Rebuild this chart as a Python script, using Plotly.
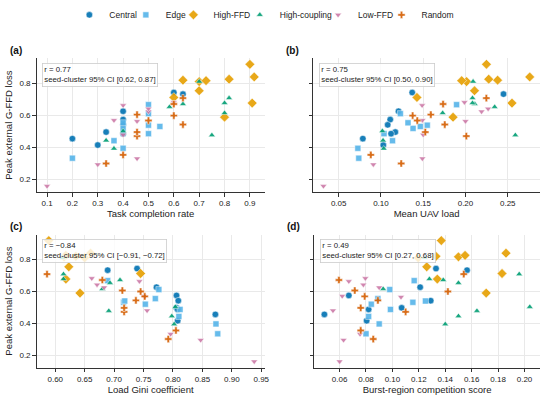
import plotly.graph_objects as go

W, H = 550, 401

# groups and colours (Okabe-Ito)
groups = ["Central", "Edge", "High-FFD", "High-coupling", "Low-FFD", "Random"]
colors = ["#0072B2", "#56B4E9", "#E69F00", "#009E73", "#CC79A7", "#D55E00"]
symbols = ["circle", "square", "diamond", "triangle-up", "triangle-down", "cross"]
sizes = [6.5, 6, 7.5, 6, 6, 6]

# peak external G-FFD loss per run, by group
loss_central = [0.456, 0.416, 0.497, 0.627, 0.575, 0.542, 0.487, 0.744, 0.734]
loss_edge = [0.334, 0.396, 0.443, 0.487, 0.520, 0.532, 0.540, 0.555, 0.612, 0.668]
loss_highffd = [0.590, 0.678, 0.713, 0.755, 0.812, 0.818, 0.821, 0.827, 0.841, 0.920]
loss_coupling = [0.394, 0.445, 0.478, 0.503, 0.616, 0.654, 0.672, 0.678, 0.709, 0.812]
loss_lowffd = [0.160, 0.295, 0.332, 0.480, 0.565, 0.571, 0.625, 0.643, 0.664, 0.683]
loss_random = [0.301, 0.355, 0.472, 0.497, 0.544, 0.569, 0.600, 0.606, 0.672, 0.709]

# task completion rate
task_central = [0.2, 0.3, 0.333, 0.4, 0.4, 0.4, 0.4, 0.6, 0.636]
task_edge = [0.2, 0.4, 0.364, 0.5, 0.4, 0.545, 0.5, 0.4, 0.5, 0.5]
task_highffd = [0.8, 0.909, 0.6, 0.7, 0.7, 0.727, 0.636, 0.818, 0.917, 0.9]
task_coupling = [0.364, 0.333, 0.75, 0.4, 0.8, 0.583, 0.636, 0.8, 0.818, 0.7]
task_lowffd = [0.1, 0.3, 0.455, 0.4, 0.455, 0.364, 0.5, 0.5, 0.4, 0.6]
task_random = [0.333, 0.4, 0.455, 0.455, 0.636, 0.5, 0.6, 0.455, 0.6, 0.636]

# mean UAV load
load_central = [0.0786, 0.1028, 0.117, 0.1208, 0.111, 0.108, 0.112, 0.137, 0.245]
load_edge = [0.0738, 0.0727, 0.1137, 0.1036, 0.138, 0.1466, 0.1548, 0.132, 0.123, 0.1895]
load_highffd = [0.1853, 0.255, 0.1426, 0.2107, 0.2013, 0.1955, 0.238, 0.2275, 0.276, 0.2248]
load_coupling = [0.1033, 0.1025, 0.259, 0.1017, 0.173, 0.2345, 0.211, 0.2083, 0.2083, 0.209]
load_lowffd = [0.032, 0.091, 0.149, 0.150, 0.200, 0.149, 0.219, 0.2268, 0.1487, 0.1988]
load_random = [0.124, 0.088, 0.201, 0.1525, 0.1755, 0.143, 0.1375, 0.159, 0.1735, 0.2247]

# load Gini coefficient
gini_central = [0.872, 0.808, 0.806, 0.772, 0.806, 0.809, 0.808, 0.739, 0.689]
gini_edge = [0.876, 0.873, 0.810, 0.812, 0.753, 0.716, 0.718, 0.770, 0.776, 0.689]
gini_highffd = [0.642, 0.618, 0.745, 0.623, 0.65, 0.615, 0.635, 0.618, 0.66, 0.589]
gini_coupling = [0.802, 0.798, 0.691, 0.804, 0.680, 0.693, 0.710, 0.614, 0.614, 0.6125]
gini_lowffd = [0.938, 0.847, 0.796, 0.756, 0.752, 0.750, 0.683, 0.671, 0.743, 0.662]
gini_random = [0.792, 0.805, 0.717, 0.717, 0.737, 0.752, 0.745, 0.714, 0.680, 0.586]

# burst-region competition score
burst_central = [0.0485, 0.0805, 0.107, 0.121, 0.067, 0.129, 0.082, 0.133, 0.1565]
burst_edge = [0.080, 0.090, 0.082, 0.0985, 0.084, 0.1155, 0.125, 0.089, 0.098, 0.1165]
burst_highffd = [0.171, 0.134, 0.183, 0.126, 0.1195, 0.150, 0.133, 0.155, 0.186, 0.137]
burst_coupling = [0.140, 0.150, 0.164, 0.204, 0.093, 0.150, 0.1385, 0.128, 0.196, 0.1245]
burst_lowffd = [0.060, 0.063, 0.0755, 0.055, 0.1065, 0.062, 0.090, 0.078, 0.067, 0.0795]
burst_random = [0.0855, 0.076, 0.110, 0.076, 0.089, 0.079, 0.142, 0.0715, 0.0595, 0.154]

losses = [loss_central, loss_edge, loss_highffd, loss_coupling, loss_lowffd, loss_random]
panels = [
    ("(a)", "Task completion rate", [task_central, task_edge, task_highffd, task_coupling, task_lowffd, task_random],
     "0.77", "[0.62, 0.87]"),
    ("(b)", "Mean UAV load", [load_central, load_edge, load_highffd, load_coupling, load_lowffd, load_random],
     "0.75", "[0.50, 0.90]"),
    ("(c)", "Load Gini coefficient", [gini_central, gini_edge, gini_highffd, gini_coupling, gini_lowffd, gini_random],
     "\u22120.84", "[\u22120.91, \u22120.72]"),
    ("(d)", "Burst-region competition score", [burst_central, burst_edge, burst_highffd, burst_coupling, burst_lowffd, burst_random],
     "0.49", "[0.27, 0.68]"),
]

# pixel boxes of the four axes (left, right, top, bottom)
boxes = [(37, 267, 53, 189), (316, 545, 53, 189), (37, 267, 232, 367), (317, 545, 232, 367)]
xticks = [(0.1, 0.1, ".1f"), (0.05, 0.05, ".2f"), (0.6, 0.05, ".2f"), (0.06, 0.02, ".2f")]

legend_x = [70, 127, 175, 242, 321, 385]


def padded(vals, frac=0.05):
    lo, hi = min(vals), max(vals)
    pad = (hi - lo) * frac
    return [lo - pad, hi + pad]


all_loss = [v for g in losses for v in g]
yrange = padded(all_loss)

fig = go.Figure()
font = "Liberation Sans, Arial, sans-serif"

for p, (label, xtitle, xs, r, ci) in enumerate(panels):
    ax = "" if p == 0 else str(p + 1)
    for g in range(len(groups)):
        fig.add_trace(go.Scatter(
            x=xs[g], y=losses[g], mode="markers", name=groups[g],
            xaxis="x" + ax, yaxis="y" + ax,
            showlegend=(p == 0),
            legend="legend" if g == 0 else "legend" + str(g + 1),
            opacity=0.9,
            marker=dict(color=colors[g], symbol=symbols[g], size=sizes[g],
                        line=dict(color="white", width=0.5)),
        ))

    l, rgt, t, b = boxes[p]
    all_x = [v for g in xs for v in g]
    tick0, dtick, fmt = xticks[p]
    axis_common = dict(showline=True, linecolor="#333", linewidth=1, mirror=False,
                       ticks="outside", ticklen=3.5, tickwidth=1, tickcolor="#333",
                       showgrid=True, gridcolor="#e9e9e9", gridwidth=0.8, zeroline=False,
                       tickfont=dict(size=8, color="#222"))
    fig.layout["xaxis" + ax] = dict(
        domain=[l / W, rgt / W], anchor="y" + ax, range=padded(all_x),
        tick0=tick0, dtick=dtick, tickformat=fmt,
        title=dict(text=xtitle, font=dict(size=9.5, color="#222"), standoff=3),
        **axis_common)
    fig.layout["yaxis" + ax] = dict(
        domain=[1 - b / H, 1 - t / H], anchor="x" + ax, range=yrange,
        tick0=0.2, dtick=0.2, tickformat=".1f",
        showticklabels=(p % 2 == 0),
        title=dict(text="Peak external G-FFD loss" if p % 2 == 0 else "",
                   font=dict(size=9.5, color="#222"), standoff=5),
        **axis_common)

    # panel letter
    fig.add_annotation(text="<b>" + label + "</b>", xref="paper", yref="paper",
                       x=(l - 29) / W, y=1 - (t - 8) / H, xanchor="left", yanchor="middle",
                       showarrow=False, font=dict(size=10, color="#111"))
    # correlation box
    fig.add_annotation(text="r = " + r + "<br>seed-cluster 95% CI " + ci,
                       xref="x" + ax + " domain", yref="y" + ax + " domain",
                       x=0.025, y=0.967, xanchor="left", yanchor="top", align="left",
                       showarrow=False, font=dict(size=7.8, color="#222"),
                       bgcolor="rgba(255,255,255,0.8)", bordercolor="#cccccc",
                       borderwidth=0.8, borderpad=1.5)

legends = {}
for g in range(len(groups)):
    key = "legend" if g == 0 else "legend" + str(g + 1)
    legends[key] = dict(x=legend_x[g] / W, y=1 - 9 / H, xanchor="left", yanchor="middle",
                        orientation="h", bgcolor="rgba(0,0,0,0)", borderwidth=0,
                        font=dict(size=8.5, color="#222"))

fig.update_layout(
    width=W, height=H,
    margin=dict(l=0, r=0, t=0, b=0),
    plot_bgcolor="white", paper_bgcolor="white",
    font=dict(family=font, color="#222"),
    **legends,
)

# the page body has a default 8px margin; drop it so the figure sits at the corner
fig.write_html("out.html", config={"displayModeBar": False},
               post_script="document.body.style.margin='0';")
